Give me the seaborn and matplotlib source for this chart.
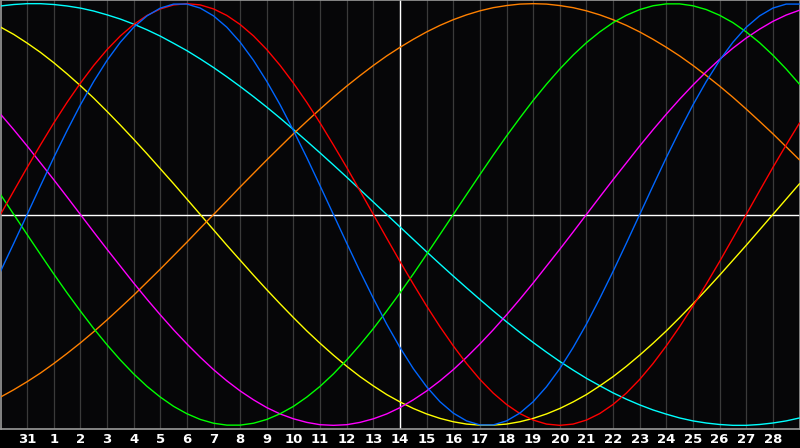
import numpy as np
import pandas as pd
import matplotlib
matplotlib.use("Agg")
import matplotlib.pyplot as plt
import seaborn as sns

# Day of month for each plotted day (Jan 30 ... Mar 1)
days = [30, 31] + list(range(1, 29)) + [1]
tick_labels = ["31"] + [str(d) for d in range(1, 29)]
today_label = "14"

# Cycle values (per mille), read every half day from Jan 30 to Mar 1
physical_23 = [-270, -136, 0, 136, 270, 398, 520, 631, 731, 817, 888, 942, 979, 998, 998, 979,
               942, 888, 817, 731, 631, 520, 398, 270, 136, 0, -136, -270, -398, -520, -631,
               -731, -817, -888, -942, -979, -998, -998, -979, -942, -888, -817, -731, -631, -520, -398,
               -270, -136, 0, 136, 270, 398, 520, 631, 731, 817, 888, 942, 979, 998, 998]
emotional_28 = [0, 112, 223, 330, 434, 532, 623, 707, 782, 847, 901, 944, 975, 994, 1000, 994,
                975, 944, 901, 847, 782, 707, 623, 532, 434, 330, 223, 112, 0, -112, -223,
                -330, -434, -532, -623, -707, -782, -847, -901, -944, -975, -994, -1000, -994, -975, -944,
                -901, -847, -782, -707, -623, -532, -434, -330, -223, -112, 0, 112, 223, 330, 434]
intellectual_33 = [95, 0, -95, -189, -282, -372, -458, -541, -618, -690, -756, -815, -866, -910, -945, -972,
                   -990, -999, -999, -990, -972, -945, -910, -866, -815, -756, -690, -618, -541, -458, -372,
                   -282, -189, -95, 0, 95, 189, 282, 372, 458, 541, 618, 690, 756, 815, 866,
                   910, 945, 972, 990, 999, 999, 990, 972, 945, 910, 866, 815, 756, 690, 618]
intuitive_38 = [476, 402, 325, 245, 165, 83, 0, -83, -165, -245, -325, -402, -476, -547, -614, -677,
                -736, -789, -837, -879, -916, -946, -969, -986, -997, -1000, -997, -986, -969, -946, -916,
                -879, -837, -789, -736, -677, -614, -547, -476, -402, -325, -245, -165, -83, 0, 83,
                165, 245, 325, 402, 476, 547, 614, 677, 736, 789, 837, 879, 916, 946, 969]
aesthetic_43 = [889, 854, 813, 769, 720, 667, 611, 552, 489, 424, 357, 288, 217, 146, 73, 0,
                -73, -146, -217, -288, -357, -424, -489, -552, -611, -667, -720, -769, -813, -854, -889,
                -920, -946, -967, -983, -994, -999, -999, -994, -983, -967, -946, -920, -889, -854, -813,
                -769, -720, -667, -611, -552, -489, -424, -357, -288, -217, -146, -73, 0, 73, 146]
awareness_48 = [-866, -831, -793, -752, -707, -659, -609, -556, -500, -442, -383, -321, -259, -195, -131, -65,
                0, 65, 131, 195, 259, 321, 383, 442, 500, 556, 609, 659, 707, 752, 793,
                831, 866, 897, 924, 947, 966, 981, 991, 998, 1000, 998, 991, 981, 966, 947,
                924, 897, 866, 831, 793, 752, 707, 659, 609, 556, 500, 442, 383, 321, 259]
spiritual_53 = [989, 996, 1000, 1000, 996, 989, 979, 965, 947, 927, 903, 876, 846, 812, 777, 738,
                697, 653, 607, 559, 509, 457, 403, 348, 292, 235, 177, 118, 59, 0, -59,
                -118, -177, -235, -292, -348, -403, -457, -509, -559, -607, -653, -697, -738, -777, -812,
                -846, -876, -903, -927, -947, -965, -979, -989, -996, -1000, -1000, -996, -989, -979, -965]

series = {
    "Spiritual": spiritual_53,
    "Aesthetic": aesthetic_43,
    "Awareness": awareness_48,
    "Intuitive": intuitive_38,
    "Intellectual": intellectual_33,
    "Emotional": emotional_28,
    "Physical": physical_23,
}
colors = {
    "Spiritual": "#00ffff",
    "Aesthetic": "#ffff00",
    "Awareness": "#ff8000",
    "Intuitive": "#ff00ff",
    "Intellectual": "#00ff00",
    "Emotional": "#ff0000",
    "Physical": "#0066ff",
}

# half-day positions: day index -1 (Jan 30) ... 29 (Mar 1)
n_days = len(days)
pos = [i / 2 - 1 for i in range(2 * n_days - 1)]
rows = []
for name, vals in series.items():
    for p, v in zip(pos, vals):
        rows.append({"pos": p, "value": v, "cycle": name})
df = pd.DataFrame(rows)

sns.set_style("dark")
plt.rcParams["font.family"] = ["DejaVu Sans"]

W, H = 800, 448
fig = plt.figure(figsize=(W / 100, H / 100), dpi=100)
fig.patch.set_facecolor("black")
ax = fig.add_axes([0.5 / W, 19.5 / H, 799 / W, 428 / H])
ax.set_facecolor("#060608")

# grid lines for each day
for p in range(0, len(tick_labels)):
    ax.axvline(p, color="#3a3a3a", lw=0.9, zorder=1)
ax.axhline(0, color="white", lw=1.0, zorder=2)
ax.axvline(tick_labels.index(today_label), color="white", lw=1.0, zorder=2)

sns.lineplot(data=df, x="pos", y="value", hue="cycle", palette=colors,
             hue_order=list(series.keys()), lw=1.0, legend=False, ax=ax, zorder=3)

ax.set_xlim(-1, n_days - 2)
ax.set_ylim(-1015, 1015)
ax.set_xticks(range(len(tick_labels)))
ax.set_xticklabels(tick_labels, color="white", fontsize=9.5, fontweight="bold")
ax.tick_params(axis="x", length=0, pad=3.5)
ax.set_yticks([])
ax.set_xlabel("")
ax.set_ylabel("")
ax.grid(False)
for s in ax.spines.values():
    s.set_visible(True)
    s.set_color("#9a9a9a")
    s.set_linewidth(1.2)

fig.savefig("out.png", dpi=100, facecolor=fig.get_facecolor())
